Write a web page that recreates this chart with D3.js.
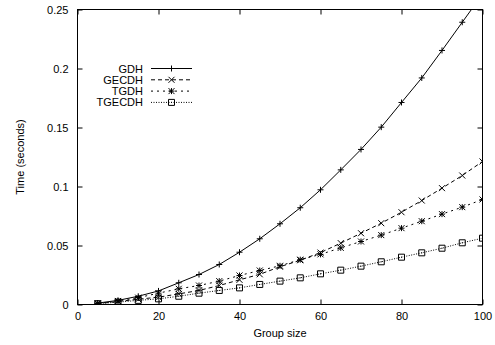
<!DOCTYPE html>
<html><head><meta charset="utf-8">
<script src="https://cdn.jsdelivr.net/npm/d3@7"></script>
<style>body{margin:0;background:#fff}svg{display:block}text{font-family:"Liberation Sans",Arial,sans-serif;font-size:11px;fill:#000}</style>
</head><body><svg id="c" width="495" height="345"></svg>
<script>
const groupSizes = [5,10,15,20,25,30,35,40,45,50,55,60,65,70,75,80,85,90,95,100];
const gdh    = [0.0012,0.0035,0.007,0.0115,0.0184,0.0254,0.0339,0.0443,0.0557,0.0684,0.082,0.0972,0.1141,0.1314,0.1503,0.1712,0.192,0.2153,0.2392,0.263];
const gecdh  = [0.0008,0.0025,0.0045,0.0062,0.009,0.0119,0.0161,0.0209,0.0256,0.032,0.0375,0.044,0.052,0.0604,0.0689,0.0782,0.0881,0.0986,0.1093,0.1212];
const tgdh   = [0.0009,0.003,0.0058,0.0096,0.0133,0.0161,0.0198,0.0246,0.0288,0.0328,0.038,0.0425,0.048,0.0534,0.0588,0.0647,0.0706,0.0766,0.0825,0.089];
const tgecdh = [0.0007,0.002,0.0035,0.0048,0.007,0.0096,0.0119,0.0141,0.017,0.0198,0.0226,0.026,0.0291,0.0325,0.0362,0.0401,0.0438,0.0477,0.0523,0.0562];
const seriesNames = ["GDH","GECDH","TGDH","TGECDH"];
const xTicks = [0,20,40,60,80,100];
const yTicks = [0,0.05,0.1,0.15,0.2,0.25];
const yTickLabels = ["0","0.05","0.1","0.15","0.2","0.25"];

const svg = d3.select("#c");
const L=77.5,R=482.5,T=9.5,B=304.5;
const x = d3.scaleLinear().domain([0,100]).range([L,R]);
const y = d3.scaleLinear().domain([0,0.25]).range([B,T]);

const styles = [
  {dash:null, marker:"plus"},
  {dash:"4,3", marker:"cross"},
  {dash:"2,4", marker:"star"},
  {dash:"1,1.5", marker:"box"}
];
const data = [gdh,gecdh,tgdh,tgecdh];

svg.append("defs").append("clipPath").attr("id","clip")
  .append("rect").attr("x",L).attr("y",T).attr("width",R-L).attr("height",B-T);

// axes with inward ticks
const tl=5;
const gx = svg.append("g").attr("transform",`translate(0,${B})`)
  .call(d3.axisBottom(x).tickValues(xTicks).tickSize(-tl).tickPadding(8));
const gxt = svg.append("g").attr("transform",`translate(0,${T})`)
  .call(d3.axisTop(x).tickValues(xTicks).tickSize(-tl).tickFormat(""));
const gy = svg.append("g").attr("transform",`translate(${L},0)`)
  .call(d3.axisLeft(y).tickValues(yTicks).tickSize(-tl).tickPadding(9).tickFormat((d,i)=>yTickLabels[i]));
const gyr = svg.append("g").attr("transform",`translate(${R},0)`)
  .call(d3.axisRight(y).tickValues(yTicks).tickSize(-tl).tickFormat(""));
[gx,gxt,gy,gyr].forEach(g=>{
  g.select(".domain").remove();
  g.selectAll("line").attr("stroke","#000");
  g.selectAll("text").attr("font-family","Liberation Sans, Arial, sans-serif").attr("font-size",11).attr("fill","#000");
});
svg.append("rect").attr("x",L).attr("y",T).attr("width",R-L).attr("height",B-T)
  .attr("fill","none").attr("stroke","#000").attr("stroke-width",1);

svg.append("text").attr("x",(L+R)/2).attr("y",337).attr("text-anchor","middle").text("Group size");
svg.append("text").attr("transform",`translate(24,${(T+B)/2}) rotate(-90)`).attr("text-anchor","middle").text("Time (seconds)");

function drawMarker(g, type, cx, cy){
  const s=3;
  const p = d3.path();
  if(type==="plus"||type==="star"){ p.moveTo(cx-s,cy); p.lineTo(cx+s,cy); p.moveTo(cx,cy-s); p.lineTo(cx,cy+s); }
  if(type==="cross"||type==="star"){ p.moveTo(cx-s,cy-s); p.lineTo(cx+s,cy+s); p.moveTo(cx-s,cy+s); p.lineTo(cx+s,cy-s); }
  if(type==="box"){ p.rect(cx-s,cy-s,2*s,2*s); }
  g.append("path").attr("d",p.toString()).attr("fill","none").attr("stroke","#000").attr("stroke-width",1);
  if(type==="box") g.append("rect").attr("x",cx-0.5).attr("y",cy-0.5).attr("width",1).attr("height",1).attr("fill","#000");
}

const plot = svg.append("g").attr("clip-path","url(#clip)");
const line = d3.line().x((d,i)=>x(groupSizes[i])).y(d=>y(d));
data.forEach((vals,k)=>{
  plot.append("path").datum(vals).attr("d",line).attr("fill","none").attr("stroke","#000")
    .attr("stroke-width",1).attr("stroke-dasharray",styles[k].dash);
  vals.forEach((v,i)=>drawMarker(plot,styles[k].marker,x(groupSizes[i]),y(v)));
});

// legend
const lg = svg.append("g");
const ly0=68.5, ldy=11.3;
seriesNames.forEach((n,k)=>{
  const yy = ly0+k*ldy;
  lg.append("text").attr("x",143).attr("y",yy+4).attr("text-anchor","end").text(n);
  lg.append("line").attr("x1",151).attr("x2",192).attr("y1",yy).attr("y2",yy)
    .attr("stroke","#000").attr("stroke-width",1).attr("stroke-dasharray",styles[k].dash);
  drawMarker(lg,styles[k].marker,171.5,yy);
});
</script></body></html>
